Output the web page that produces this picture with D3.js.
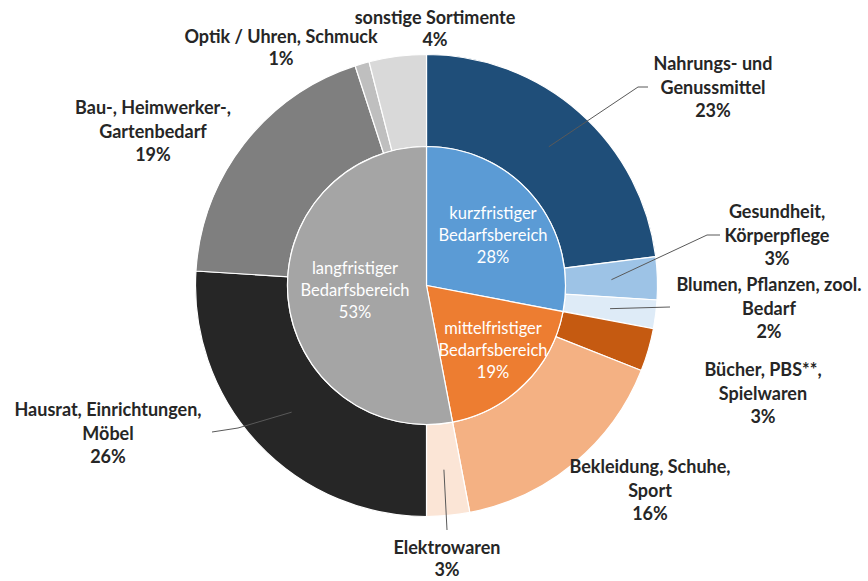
<!DOCTYPE html>
<html>
<head>
<meta charset="utf-8">
<script src="https://cdn.jsdelivr.net/npm/d3@7"></script>
<style>
  body { margin: 0; background: #fff; }
  svg text { font-family: Lato, "Open Sans", sans-serif; }
</style>
</head>
<body>
<div id="chart"></div>
<script>
// inner ring: demand groups
var groups = ["kurzfristiger Bedarfsbereich", "mittelfristiger Bedarfsbereich", "langfristiger Bedarfsbereich"];
var groupValues = [28, 19, 53];
var groupColors = ["#5b9bd5", "#ed7d31", "#a5a5a5"];

// outer ring: assortments (clockwise from 12 o'clock)
var categories = [
  "Nahrungs- und Genussmittel",
  "Gesundheit, Körperpflege",
  "Blumen, Pflanzen, zool. Bedarf",
  "Bücher, PBS**, Spielwaren",
  "Bekleidung, Schuhe, Sport",
  "Elektrowaren",
  "Hausrat, Einrichtungen, Möbel",
  "Bau-, Heimwerker-, Gartenbedarf",
  "Optik / Uhren, Schmuck",
  "sonstige Sortimente"
];
var categoryValues = [23, 3, 2, 3, 16, 3, 26, 19, 1, 4];
var categoryColors = ["#1f4e79", "#9dc3e6", "#deebf7", "#c55a11", "#f4b183",
                      "#fbe5d6", "#262626", "#7f7f7f", "#bfbfbf", "#d9d9d9"];

// label layout (line breaks, text position, leader line bends)
var outerLabels = [
  { lines: ["Nahrungs- und", "Genussmittel"], x: 713, y: 64, leader: [[638, 87], [648, 87]] },
  { lines: ["Gesundheit,", "Körperpflege"], x: 777, y: 212, leader: [[707, 235], [720, 235]] },
  { lines: ["Blumen, Pflanzen, zool.", "Bedarf"], x: 769, y: 285, leader: [[670, 307]] },
  { lines: ["Bücher, PBS**,", "Spielwaren"], x: 763, y: 370, leader: null },
  { lines: ["Bekleidung, Schuhe,", "Sport"], x: 650, y: 467, leader: null },
  { lines: ["Elektrowaren"], x: 447, y: 548, leader: [[447, 530]] },
  { lines: ["Hausrat, Einrichtungen,", "Möbel"], x: 108, y: 410, leader: [[238, 428], [212, 432]] },
  { lines: ["Bau-, Heimwerker-,", "Gartenbedarf"], x: 153, y: 108, leader: null },
  { lines: ["Optik / Uhren, Schmuck"], x: 281, y: 37, leader: null },
  { lines: ["sonstige Sortimente"], x: 435, y: 18, leader: null }
];
var innerLabels = [
  { lines: ["kurzfristiger", "Bedarfsbereich"], x: 493, y: 213 },
  { lines: ["mittelfristiger", "Bedarfsbereich"], x: 493, y: 328 },
  { lines: ["langfristiger", "Bedarfsbereich"], x: 355, y: 268 }
];

var w = 868, h = 581;
var cx = 426.5, cy = 285.5;
var rOuter = 231, rInner = 139;

var svg = d3.select("#chart").append("svg").attr("width", w).attr("height", h);
var g = svg.append("g").attr("transform", "translate(" + cx + "," + cy + ")");

var pie = d3.pie().sort(null).value(function (d) { return d; });

var outerArc = d3.arc().innerRadius(rInner).outerRadius(rOuter);
var innerArc = d3.arc().innerRadius(0).outerRadius(rInner);

var outerData = pie(categoryValues);
var innerData = pie(groupValues);

g.selectAll("path.outer")
  .data(outerData)
  .enter()
  .append("path")
  .attr("class", "outer")
  .attr("d", outerArc)
  .attr("fill", function (d, i) { return categoryColors[i]; })
  .attr("stroke", "#fff")
  .attr("stroke-width", 1.2);

g.selectAll("path.inner")
  .data(innerData)
  .enter()
  .append("path")
  .attr("class", "inner")
  .attr("d", innerArc)
  .attr("fill", function (d, i) { return groupColors[i]; })
  .attr("stroke", "#fff")
  .attr("stroke-width", 1.2);

// leader lines from slice centroid
outerData.forEach(function (d, i) {
  var lab = outerLabels[i];
  if (!lab.leader) return;
  var c = outerArc.centroid(d);
  var pts = [[c[0] + cx, c[1] + cy]].concat(lab.leader);
  svg.append("path")
    .attr("d", d3.line()(pts))
    .attr("fill", "none")
    .attr("stroke", "#595959")
    .attr("stroke-width", 1);
});

var lineH = 23.5;

outerLabels.forEach(function (lab, i) {
  var t = svg.append("text")
    .attr("text-anchor", "middle")
    .attr("font-size", "18px")
    .attr("font-weight", "bold")
    .attr("fill", "#262626");
  var n = lab.lines.length;
  lab.lines.concat([categoryValues[i] + "%"]).forEach(function (s, k) {
    t.append("tspan")
      .attr("x", lab.x)
      .attr("y", lab.y + k * (n == 1 ? 22 : lineH) + 6)
      .text(s);
  });
});

innerLabels.forEach(function (lab, i) {
  var t = svg.append("text")
    .attr("text-anchor", "middle")
    .attr("font-size", "16.5px")
    .attr("fill", "#fff");
  lab.lines.concat([groupValues[i] + "%"]).forEach(function (s, k) {
    t.append("tspan")
      .attr("x", lab.x)
      .attr("y", lab.y + k * 22 + 6)
      .text(s);
  });
});
</script>
</body>
</html>
